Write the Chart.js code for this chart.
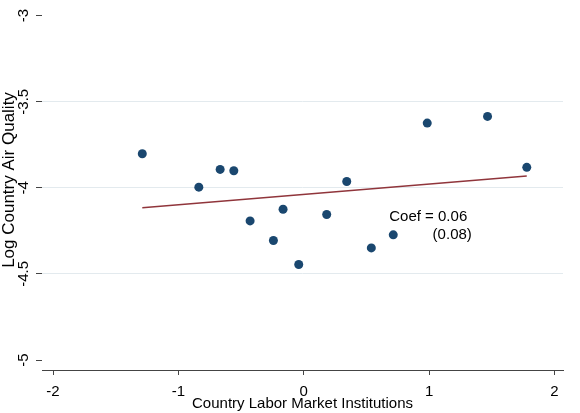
<!DOCTYPE html>
<html>
<head>
<meta charset="utf-8">
<title>Air quality vs labor market institutions</title>
<script src="https://cdn.jsdelivr.net/npm/chart.js@4/dist/chart.umd.min.js"></script>
<style>
  html, body { margin: 0; padding: 0; background: #ffffff; }
  canvas { display: block; }
</style>
</head>
<body>
<canvas id="chart" width="580" height="413"></canvas>
<script>
// Country-level observations
const labelX = [-1.288, -0.837, -0.667, -0.558, -0.428, -0.242, -0.165, -0.040, 0.183, 0.343, 0.539, 0.714, 0.985, 1.466, 1.779];
const airQuality = [-3.802, -3.996, -3.893, -3.901, -4.192, -4.306, -4.124, -4.445, -4.155, -3.963, -4.349, -4.273, -3.624, -3.585, -3.881];

// Linear fit
const fitCoef = 0.06;
const fitSE = 0.08;
const fitIntercept = -4.038;

// Axis ticks
const xTicks = [-2, -1, 0, 1, 2];
const yTicks = [-5, -4.5, -4, -3.5, -3];

const FONT = "'Liberation Sans', Arial, Helvetica, sans-serif";
const INK = '#444444';

const points = labelX.map((x, i) => ({ x: x, y: airQuality[i] }));
const xLo = Math.min(...labelX);
const xHi = Math.max(...labelX);
const fitLine = [xLo, xHi].map(x => ({ x: x, y: fitIntercept + fitCoef * x }));

// Rotated y tick labels, y title and the coefficient note
const textLayer = {
  id: 'textLayer',
  afterDraw(chart) {
    const ctx = chart.ctx;
    const xs = chart.scales.x;
    const ys = chart.scales.y;
    ctx.save();
    ctx.fillStyle = '#000000';
    ctx.font = '15px ' + FONT;
    ctx.textAlign = 'center';
    ctx.textBaseline = 'middle';
    yTicks.forEach(v => {
      const py = ys.getPixelForValue(v);
      ctx.save();
      ctx.translate(23.5, py);
      ctx.rotate(-Math.PI / 2);
      ctx.fillText(String(v), 0, 0);
      ctx.restore();
    });
    ctx.save();
    ctx.font = '17px ' + FONT;
    ctx.translate(9.5, 180);
    ctx.rotate(-Math.PI / 2);
    ctx.fillText('Log Country Air Quality', 0, 0);
    ctx.restore();

    ctx.font = '15px ' + FONT;
    ctx.textAlign = 'left';
    ctx.fillText('Coef = ' + fitCoef.toFixed(2), xs.getPixelForValue(0.682), ys.getPixelForValue(-4.169));
    ctx.fillText('(' + fitSE.toFixed(2) + ')', xs.getPixelForValue(1.028), ys.getPixelForValue(-4.271));
    ctx.restore();
  }
};

new Chart(document.getElementById('chart'), {
  type: 'scatter',
  data: {
    datasets: [
      {
        type: 'line',
        data: fitLine,
        borderColor: '#90353b',
        borderWidth: 1.5,
        pointRadius: 0,
        fill: false
      },
      {
        data: points,
        backgroundColor: '#1a476f',
        borderWidth: 0,
        pointRadius: 4.5
      }
    ]
  },
  options: {
    responsive: false,
    animation: false,
    devicePixelRatio: 1,
    layout: { padding: { top: 5, right: 17, left: 0, bottom: 0 } },
    plugins: { legend: { display: false }, tooltip: { enabled: false } },
    scales: {
      x: {
        type: 'linear',
        min: -2.088,
        max: 2.068,
        afterBuildTicks(scale) { scale.ticks = xTicks.map(v => ({ value: v })); },
        afterFit(scale) { scale.height = 43; },
        border: { display: true, color: INK, width: 1 },
        grid: { drawOnChartArea: false, drawTicks: true, tickLength: 5, tickColor: INK },
        ticks: { color: '#000000', padding: 7.5, font: { family: FONT, size: 15 }, maxRotation: 0, callback: v => String(v) },
        title: { display: true, text: 'Country Labor Market Institutions', color: '#000000', font: { family: FONT, size: 15 }, padding: 0 }
      },
      y: {
        type: 'linear',
        min: -5.058,
        max: -2.938,
        afterBuildTicks(scale) { scale.ticks = yTicks.map(v => ({ value: v })); },
        afterFit(scale) { scale.width = 42; },
        border: { display: false },
        grid: {
          drawTicks: true,
          tickLength: 6,
          tickColor: INK,
          lineWidth: 1,
          color: c => (c.tick && c.tick.value > -5 && c.tick.value < -3) ? '#e3eaee' : 'rgba(0,0,0,0)'
        },
        ticks: { display: false }
      }
    }
  },
  plugins: [textLayer]
});
</script>
</body>
</html>
